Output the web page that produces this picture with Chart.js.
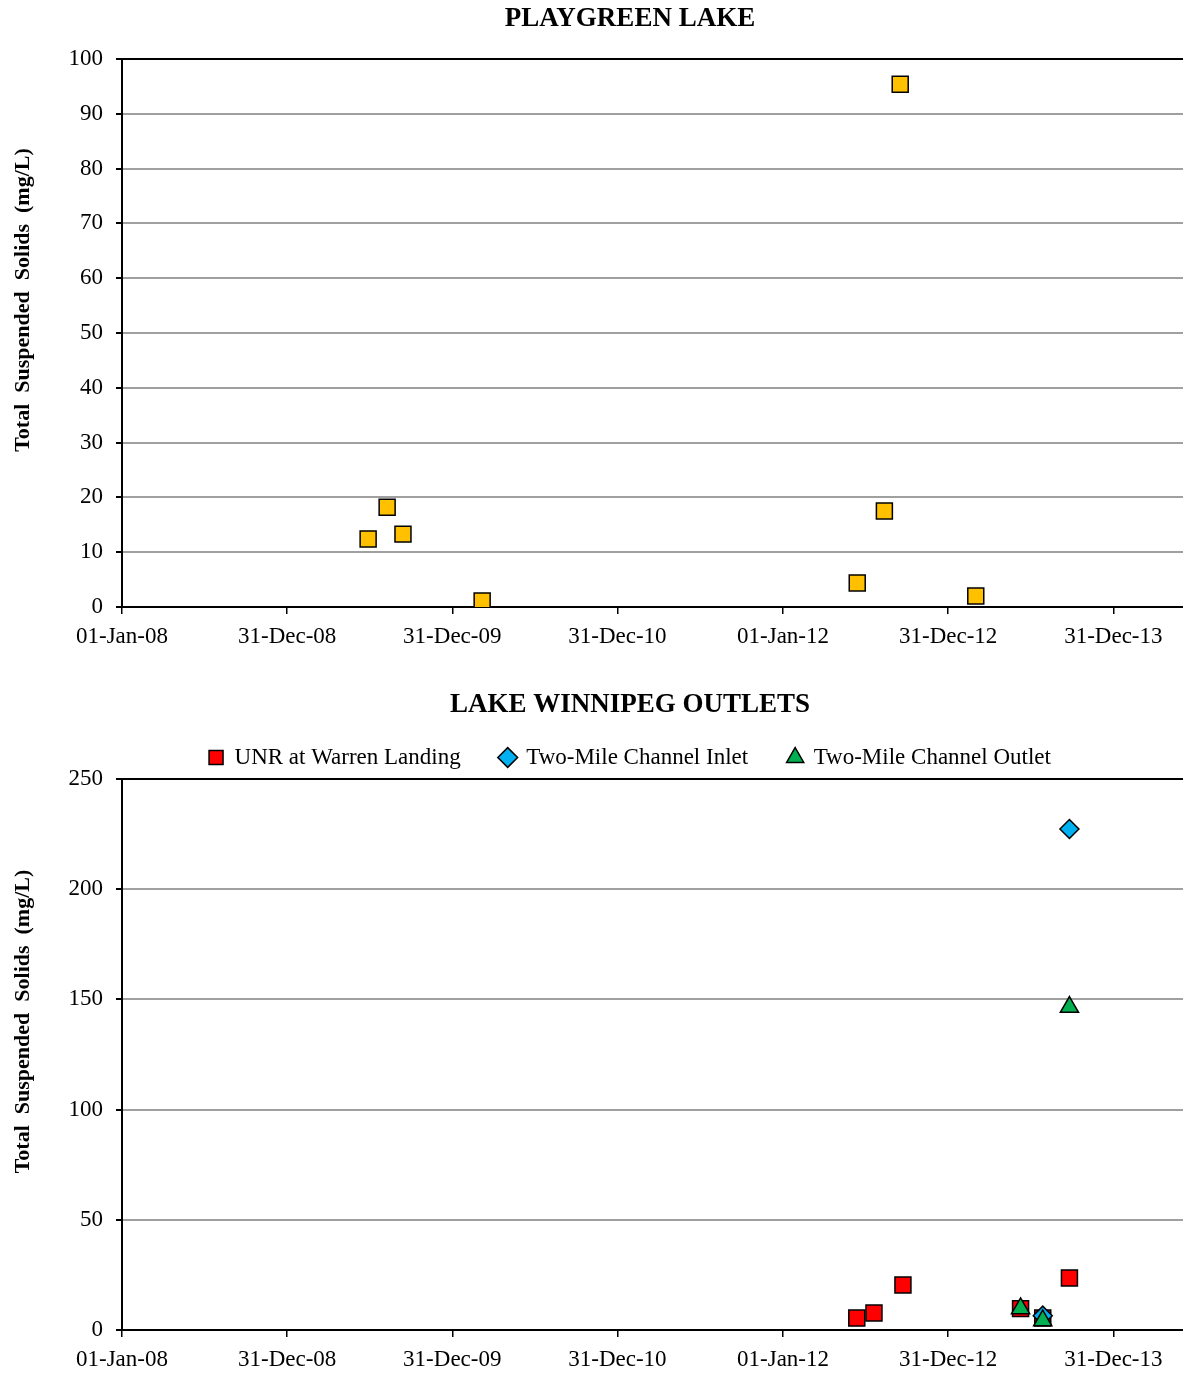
<!DOCTYPE html>
<html><head><meta charset="utf-8">
<script src="https://cdn.jsdelivr.net/npm/chart.js@4.4.1/dist/chart.umd.min.js"></script>
<style>
html,body{margin:0;padding:0;background:#fff;overflow:hidden;width:1183px;height:1375px;}
#c1{position:absolute;left:0;top:0;}
#c2{position:absolute;left:0;top:665px;}
</style></head><body>
<canvas id="c1" width="1260" height="665"></canvas>
<canvas id="c2" width="1260" height="710"></canvas>
<script>
// ---- data ----
const xTickDates  = ['2008-01-01','2008-12-31','2009-12-31','2010-12-31','2012-01-01','2012-12-31','2013-12-31'];
const xTickLabels = ['01-Jan-08','31-Dec-08','31-Dec-09','31-Dec-10','01-Jan-12','31-Dec-12','31-Dec-13'];
const xMinDate = '2008-01-01';
const xMaxDate = '2014-06-03';

const playgreenDates = ['2009-06-28','2009-08-09','2009-09-13','2010-03-07','2012-06-13','2012-08-12','2012-09-16','2013-03-02'];
const playgreenTSS   = [12.4, 18.2, 13.3, 1.1, 4.4, 17.5, 95.4, 2.0];

const unrDates = ['2012-06-12','2012-07-20','2012-09-22','2013-06-09','2013-07-28','2013-09-25'];
const unrTSS   = [5.4, 7.7, 20.4, 9.7, 5.4, 23.6];

const inletDates = ['2013-07-28','2013-09-25'];
const inletTSS   = [6.5, 227.3];

const outletDates = ['2013-06-09','2013-07-28','2013-09-25'];
const outletTSS   = [9.8, 4.3, 146.5];

const topYTicks = {min: 0, max: 100, step: 10};
const botYTicks = {min: 0, max: 250, step: 50};
const yAxisTitle = 'Total  Suspended  Solids  (mg/L)';

// ---- helpers ----
const FONT = "'Liberation Serif', 'Times New Roman', Times, serif";
function toDay(s){ return Date.parse(s + 'T00:00:00Z') / 86400000; }
function pts(dates, vals){ return dates.map((d, i) => ({x: toDay(d), y: vals[i]})); }
// leading spaces shift the rotated title up along the axis, as in the original
const TITLE_SHIFT = '\u00A0'.repeat(12);

function buildOptions(o){
  return {
    responsive: false,
    animation: false,
    events: [],
    layout: {padding: 0},
    plugins: {
      title: {display: true, text: o.title, color: '#000',
        font: {family: FONT, size: 27, weight: 'bold'}, padding: o.titlePad},
      legend: o.legend ? {display: true, position: 'top',
        labels: {usePointStyle: true, boxWidth: 14, boxHeight: 14, padding: 40, color: '#000',
          font: {family: FONT, size: 23},
          sort: (a, b) => a.datasetIndex - b.datasetIndex}} : {display: false},
      tooltip: {enabled: false}
    },
    scales: {
      x: {
        type: 'linear', min: toDay(xMinDate), max: toDay(xMaxDate),
        afterBuildTicks: s => { s.ticks = xTickDates.map(d => ({value: toDay(d)})); },
        ticks: {callback: (v, i) => xTickLabels[i], color: '#000', padding: 9, autoSkip: false,
          maxRotation: 0, minRotation: 0, font: {family: FONT, size: 23}},
        grid: {drawOnChartArea: false, drawTicks: true, tickLength: 7, color: '#000', lineWidth: 1.5},
        border: {color: '#000', width: 2},
        afterFit: s => { s.height = o.xHeight; }
      },
      y: {
        min: o.y.min, max: o.y.max,
        ticks: {stepSize: o.y.step, color: '#000', padding: 13, font: {family: FONT, size: 23}},
        grid: {
          color: c => (c.tick && (c.tick.value === o.y.max || c.tick.value === o.y.min)) ? '#000' : '#a0a0a0',
          lineWidth: 2,
          tickColor: '#000', tickLength: 6
        },
        border: {color: '#000', width: 2},
        title: {display: true, text: TITLE_SHIFT + yAxisTitle, color: '#000',
          font: {family: FONT, size: 22, weight: 'bold'}, padding: {top: 10, bottom: 0}},
        afterFit: s => { s.width = 122; }
      },
      yPad: {
        position: 'right', display: true,
        ticks: {display: false}, grid: {display: false}, border: {display: false},
        afterFit: s => { s.width = 77; }
      }
    }
  };
}

new Chart(document.getElementById('c1'), {
  type: 'scatter',
  data: {datasets: [{
    label: 'Playgreen Lake', data: pts(playgreenDates, playgreenTSS),
    pointStyle: 'rect', pointRadius: 11.3, backgroundColor: '#FFC000', borderColor: '#000', borderWidth: 1.5
  }]},
  options: buildOptions({title: 'PLAYGREEN LAKE', titlePad: {top: 3, bottom: 23.6}, legend: false,
    xHeight: 58, y: topYTicks})
});

new Chart(document.getElementById('c2'), {
  type: 'scatter',
  data: {datasets: [
    {label: 'UNR at Warren Landing', data: pts(unrDates, unrTSS), order: 2,
      pointStyle: 'rect', pointRadius: 11.3, backgroundColor: '#FF0000', borderColor: '#000', borderWidth: 1.5},
    {label: 'Two-Mile Channel Inlet', data: pts(inletDates, inletTSS), order: 1,
      pointStyle: 'rectRot', pointRadius: 9.5, backgroundColor: '#00B0F0', borderColor: '#000', borderWidth: 1.5},
    {label: 'Two-Mile Channel Outlet', data: pts(outletDates, outletTSS), order: 0,
      pointStyle: 'triangle', pointRadius: 10.5, backgroundColor: '#00B050', borderColor: '#000', borderWidth: 1.5}
  ]},
  options: buildOptions({title: 'LAKE WINNIPEG OUTLETS', titlePad: {top: 24, bottom: -15.4}, legend: true,
    xHeight: 45, y: botYTicks})
});
</script>
</body></html>
